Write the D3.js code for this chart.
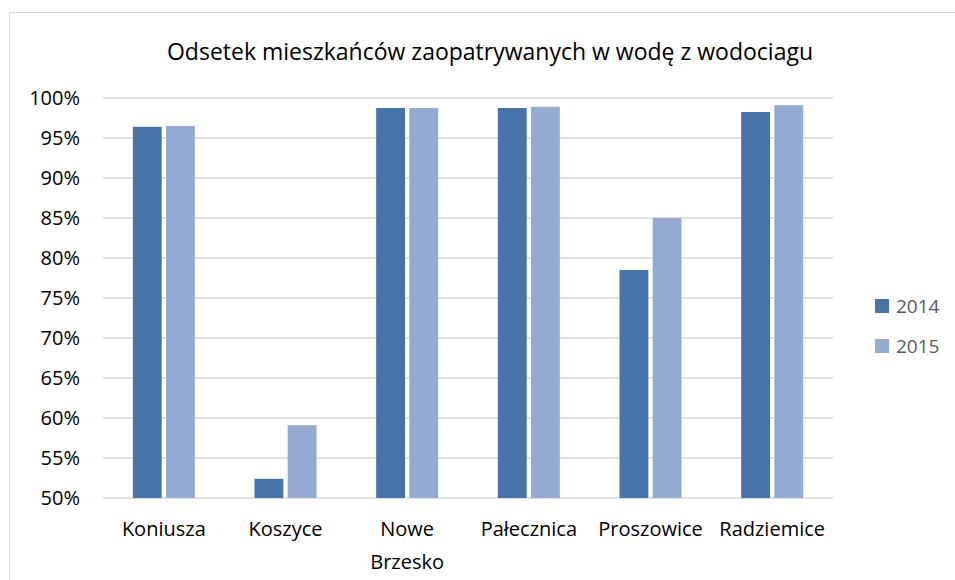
<!DOCTYPE html>
<meta charset="utf-8">
<script src="https://d3js.org/d3.v7.min.js"></script>
<style>
  body { margin: 0; background: #fff; }
  text { font-family: "Open Sans", "Noto Sans", sans-serif; }
</style>
<div id="chart"></div>
<script>
    // data
    var categories = ["Koniusza", "Koszyce", "Nowe Brzesko", "Pałecznica", "Proszowice", "Radziemice"]
    var seriesNames = ["2014", "2015"]
    var values2014 = [96.4, 52.4, 98.75, 98.75, 78.5, 98.25]
    var values2015 = [96.5, 59.1, 98.75, 98.9, 85.0, 99.1]
    var yTicks = [50, 55, 60, 65, 70, 75, 80, 85, 90, 95, 100]
    var colors = ["#4673a8", "#95aad1"]

    var W = 955, H = 580
    var margin = {top: 98, left: 103, right: 122, bottom: 82}

    var svg = d3.select("#chart").append("svg")
        .attr("width", W)
        .attr("height", H)

    // chart border
    svg.append("rect")
        .attr("x", 9.5).attr("y", 12.5)
        .attr("width", 960).attr("height", 600)
        .attr("fill", "none")
        .attr("stroke", "#d9d9d9")
        .attr("stroke-width", 1)

    svg.append("text")
        .attr("x", 490)
        .attr("y", 60)
        .attr("text-anchor", "middle")
        .attr("font-size", "23px")
        .attr("fill", "#000")
        .text("Odsetek mieszkańców zaopatrywanych w wodę z wodociagu")

    var x0 = d3.scaleBand()
        .domain(categories)
        .range([margin.left, W - margin.right])

    var x1 = d3.scaleBand()
        .domain(seriesNames)
        .range([0, 62])
        .paddingInner(0.13)

    var y = d3.scaleLinear()
        .domain([50, 100])
        .range([H - margin.bottom, margin.top])

    // gridlines
    svg.append("g")
        .selectAll("line")
        .data(yTicks)
        .enter()
        .append("line")
        .attr("x1", margin.left)
        .attr("x2", W - margin.right)
        .attr("y1", function(d){ return y(d) })
        .attr("y2", function(d){ return y(d) })
        .attr("stroke", "#d9d9d9")
        .attr("stroke-width", 1.5)

    // y labels
    svg.append("g")
        .selectAll("text")
        .data(yTicks)
        .enter()
        .append("text")
        .attr("x", 80)
        .attr("y", function(d){ return y(d) + 7 })
        .attr("text-anchor", "end")
        .attr("font-size", "20px")
        .attr("fill", "#000")
        .text(function(d){ return d + "%" })

    var series = [values2014, values2015]
    series.forEach(function(vals, si) {
        svg.append("g")
            .selectAll("rect")
            .data(vals)
            .enter()
            .append("rect")
            .attr("x", function(d, i){ return x0(categories[i]) + x0.bandwidth()/2 - 31 + x1(seriesNames[si]) })
            .attr("y", function(d){ return y(d) })
            .attr("width", x1.bandwidth())
            .attr("height", function(d){ return y(50) - y(d) })
            .attr("fill", colors[si])
    })

    // category labels, split to two lines where the picture does
    var catLabels = svg.append("g")
        .selectAll("text")
        .data(categories)
        .enter()
        .append("text")
        .attr("text-anchor", "middle")
        .attr("font-size", "20px")
        .attr("fill", "#000")
        .attr("x", function(d){ return x0(d) + x0.bandwidth()/2 })
        .attr("y", 536)

    catLabels.each(function(d) {
        var words = d === "Nowe Brzesko" ? ["Nowe", "Brzesko"] : [d]
        var t = d3.select(this)
        words.forEach(function(w, i) {
            t.append("tspan")
                .attr("x", x0(d) + x0.bandwidth()/2)
                .attr("dy", i === 0 ? 0 : 33)
                .text(w)
        })
    })

    // legend
    var legend = svg.append("g")
        .selectAll("g")
        .data(seriesNames)
        .enter()
        .append("g")
        .attr("transform", function(d, i){ return "translate(875," + (299 + i*40) + ")" })

    legend.append("rect")
        .attr("width", 14)
        .attr("height", 14)
        .attr("fill", function(d, i){ return colors[i] })

    legend.append("text")
        .attr("x", 21)
        .attr("y", 14)
        .attr("font-size", "19px")
        .attr("fill", "#595959")
        .text(function(d){ return d })
</script>
